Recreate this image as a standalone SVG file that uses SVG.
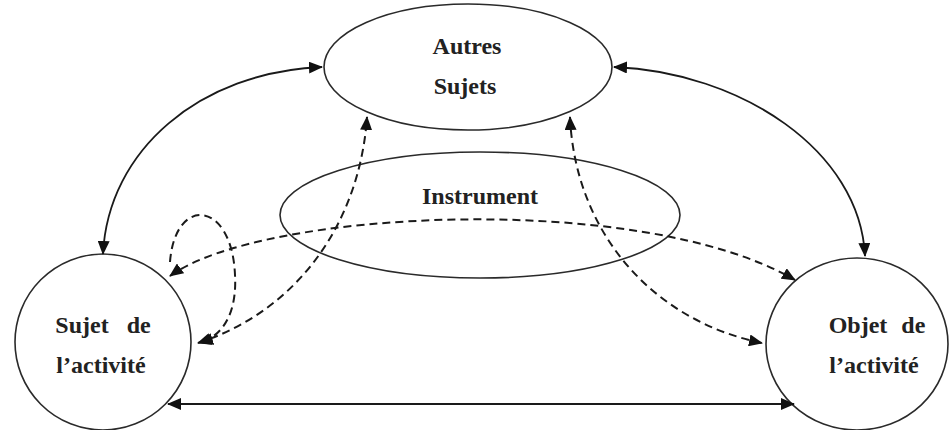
<svg xmlns="http://www.w3.org/2000/svg" width="950" height="430" viewBox="0 0 950 430">
  <style>
    .node { fill: none; stroke: #2a2a2a; stroke-width: 1.6; }
    .lbl { font-family: "Liberation Serif", "Times New Roman", serif; font-weight: bold; font-size: 24px; fill: #222; text-anchor: middle; }
    .solid { fill: none; stroke: #1a1a1a; stroke-width: 1.8; }
    .dash { fill: none; stroke: #1a1a1a; stroke-width: 2; stroke-dasharray: 8 5; }
  </style>
  <defs>
    <marker id="ah" markerUnits="userSpaceOnUse" markerWidth="14" markerHeight="12" refX="13" refY="6" orient="auto-start-reverse" viewBox="0 0 14 12">
      <path d="M0,0 L14,6 L0,12 z" fill="#111"/>
    </marker>
  </defs>
  <rect width="950" height="430" fill="#fff"/>

  <g id="autres-sujets">
    <ellipse class="node" cx="468" cy="67" rx="144" ry="63"/>
    <text class="lbl" x="467" y="54">Autres</text>
    <text class="lbl" x="465" y="94">Sujets</text>
  </g>

  <g id="instrument">
    <ellipse class="node" cx="480" cy="215" rx="200" ry="63"/>
    <text class="lbl" x="480" y="204">Instrument</text>
  </g>

  <g id="sujet">
    <circle class="node" cx="103" cy="342" r="88"/>
    <text class="lbl" x="103" y="333" style="word-spacing:12px">Sujet de</text>
    <text class="lbl" x="101" y="373">l’activité</text>
  </g>

  <g id="objet">
    <ellipse class="node" cx="857" cy="344" rx="91" ry="86"/>
    <text class="lbl" x="877" y="333" style="word-spacing:8px">Objet de</text>
    <text class="lbl" x="874" y="373">l’activité</text>
  </g>

  <g id="connectors">
    <path class="solid" d="M103,254 C108,150 200,72 322,67" marker-start="url(#ah)" marker-end="url(#ah)"/>
    <path class="solid" d="M614,67 C740,72 860,150 865,256" marker-start="url(#ah)" marker-end="url(#ah)"/>
    <path class="solid" d="M168,404 L794,404" marker-start="url(#ah)" marker-end="url(#ah)"/>
    <path class="dash" d="M170,276 C260,210 640,190 795,280" marker-start="url(#ah)" marker-end="url(#ah)"/>
    <path class="dash" d="M198,343 C300,310 360,220 367,117" marker-start="url(#ah)" marker-end="url(#ah)"/>
    <path class="dash" d="M570,117 C575,230 650,320 762,343" marker-start="url(#ah)" marker-end="url(#ah)"/>
    <path class="dash" d="M170,262 C175,195 232,200 235,275 C237,310 225,335 200,343" marker-end="url(#ah)"/>
  </g>
</svg>
